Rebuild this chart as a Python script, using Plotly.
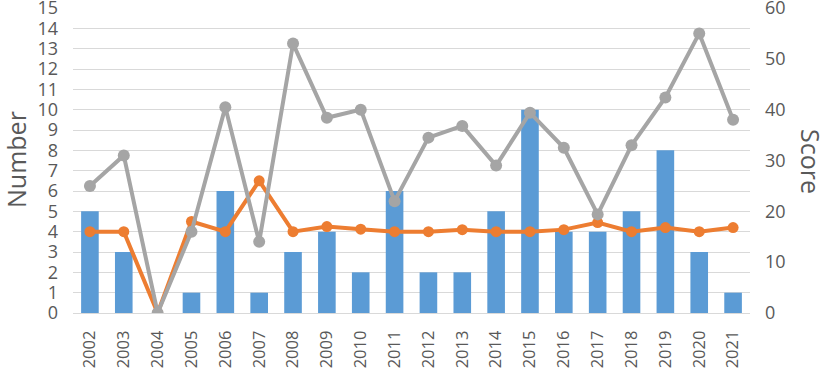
import plotly.graph_objects as go

years = [str(y) for y in range(2002, 2022)]
number = [5, 3, 0, 1, 6, 1, 3, 4, 2, 6, 2, 2, 5, 10, 4, 4, 5, 8, 3, 1]
orange_vals = [4, 4, 0, 4.5, 4, 6.5, 4, 4.25, 4.12, 4, 4, 4.1, 4, 4, 4.1, 4.45, 4, 4.2, 4, 4.2]
score = [25, 31, 0, 16, 40.5, 14, 53, 38.4, 40, 22, 34.5, 36.8, 29, 39.4, 32.5, 19.4, 33, 42.4, 55, 38]
left_ticks = list(range(0, 16))
right_ticks = [0, 10, 20, 30, 40, 50, 60]

BLUE = "#5B9BD5"
ORANGE = "#ED7D31"
GRAY = "#A5A5A5"
TXT = "#595959"

L, R, T, B = 73, 74, 8, 55
W, H = 824, 368
pw = W - L - R
ph = H - T - B

fig = go.Figure()
fig.add_trace(go.Bar(x=years, y=number, marker=dict(color=BLUE, line=dict(width=0)),
                     yaxis="y", showlegend=False))
fig.add_trace(go.Scatter(x=years, y=orange_vals, mode="lines+markers", yaxis="y",
                         line=dict(color=ORANGE, width=4),
                         marker=dict(color=ORANGE, size=11), showlegend=False))
fig.add_trace(go.Scatter(x=years, y=score, mode="lines+markers", yaxis="y2",
                         line=dict(color=GRAY, width=4),
                         marker=dict(color=GRAY, size=12), showlegend=False))

fig.update_layout(
    width=W, height=H,
    margin=dict(l=L, r=R, t=T, b=B, autoexpand=False),
    paper_bgcolor="white", plot_bgcolor="white",
    bargap=0.48,
    font=dict(family="Open Sans, Liberation Sans, sans-serif", color=TXT),
    xaxis=dict(type="category", range=[-0.5, 19.5], tickangle=-90,
               tickfont=dict(size=16.5, color=TXT),
               showgrid=False, showline=True, linecolor="#D9D9D9", linewidth=1,
               ticks="", ticklen=0, automargin=False, ticklabelstandoff=10),
    yaxis=dict(range=[0, 15], tickvals=left_ticks, tickfont=dict(size=18, color=TXT),
               showgrid=True, gridcolor="#D9D9D9", gridwidth=1, zeroline=False,
               ticks="", ticklabelstandoff=14, automargin=False,
               ticklabeloverflow="allow"),
    yaxis2=dict(range=[0, 60], tickvals=right_ticks, overlaying="y", side="right",
                tickfont=dict(size=18, color=TXT), showgrid=False, zeroline=False,
                ticks="", ticklabelstandoff=14, automargin=False,
                ticklabeloverflow="allow"),
    annotations=[
        dict(text="Number", x=(16 - L) / pw, y=(H - B - 160) / ph, xref="paper", yref="paper",
             xanchor="center", yanchor="middle",
             showarrow=False, textangle=-90, font=dict(size=25, color=TXT)),
        dict(text="Score", x=(811 - L) / pw, y=(H - B - 161) / ph, xref="paper", yref="paper",
             xanchor="center", yanchor="middle",
             showarrow=False, textangle=90, font=dict(size=25, color=TXT)),
    ],
)

fig.write_html("out.html", config={"displayModeBar": False},
               post_script="document.body.style.margin='0';")
